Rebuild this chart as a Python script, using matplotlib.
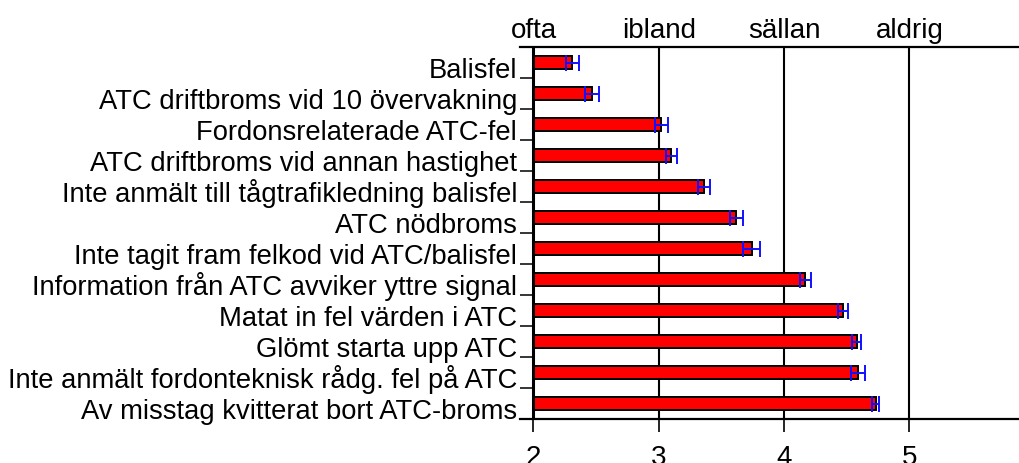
import numpy as np
import matplotlib
matplotlib.use("Agg")
import matplotlib.pyplot as plt

plt.rcParams["font.family"] = ["Liberation Sans", "DejaVu Sans"]

labels = [
    "Balisfel",
    "ATC driftbroms vid 10 övervakning",
    "Fordonsrelaterade ATC-fel",
    "ATC driftbroms vid annan hastighet",
    "Inte anmält till tågtrafikledning balisfel",
    "ATC nödbroms",
    "Inte tagit fram felkod vid ATC/balisfel",
    "Information från ATC avviker yttre signal",
    "Matat in fel värden i ATC",
    "Glömt starta upp ATC",
    "Inte anmält fordonteknisk rådg. fel på ATC",
    "Av misstag kvitterat bort ATC-broms",
]
means = [2.31, 2.47, 3.02, 3.10, 3.36, 3.62, 3.74, 4.17, 4.47, 4.58, 4.59, 4.73]
errors = [0.05, 0.055, 0.05, 0.045, 0.05, 0.05, 0.07, 0.045, 0.04, 0.035, 0.055, 0.03]
scale_ticks = [2, 3, 4, 5]
scale_words = ["ofta", "ibland", "sällan", "aldrig"]

W, H = 1020, 463
fig = plt.figure(figsize=(W / 100, H / 100), dpi=100)
# axes frame in pixels: left 520, right 1020, top 47, bottom 419
ax = fig.add_axes([520 / W, 1 - 419 / H, 500 / W, (419 - 47) / H])

xmin = 2 - 13.5 / 125.3
xmax = 2 + 500 / 125.3 - 13.5 / 125.3
ax.set_xlim(xmin, xmax)
ax.set_ylim(len(labels) - 0.5, -0.5)

ypos = np.arange(len(labels))
vals = np.array(means)
ax.barh(ypos, vals - 2, left=2, height=0.45, color="#ff0000",
        edgecolor="black", linewidth=1.4, zorder=3)
ax.errorbar(vals, ypos, xerr=errors, fmt="none", ecolor="#1010ff",
            elinewidth=1.4, capsize=5.5, capthick=1.4, zorder=4)

# vertical lines at the scale steps
ax.axvline(2, color="black", lw=2.2, zorder=5)
for v in scale_ticks[1:]:
    ax.axvline(v, color="black", lw=1.5, zorder=1)

for s in ["left", "right"]:
    ax.spines[s].set_visible(False)
for s in ["top", "bottom"]:
    ax.spines[s].set_linewidth(1.6)

# category labels sit on the row boundaries
ax.set_yticks([])
ax.set_yticks(ypos + 0.5, labels, minor=True)
ax.tick_params(axis="y", which="minor", direction="in", length=9.7,
               width=1.1, pad=2, labelsize=19.7)
for t in ax.get_yticklabels(minor=True):
    t.set_va("baseline")

ax.set_xticks(scale_ticks)
ax.tick_params(axis="x", direction="out", length=9.4, width=1.2,
               pad=9, labelsize=20)

top = ax.secondary_xaxis("top")
top.set_xticks(scale_ticks, scale_words)
top.tick_params(length=0, pad=2, labelsize=20)
top.spines["top"].set_visible(False)

fig.savefig("out.png", dpi=100)
